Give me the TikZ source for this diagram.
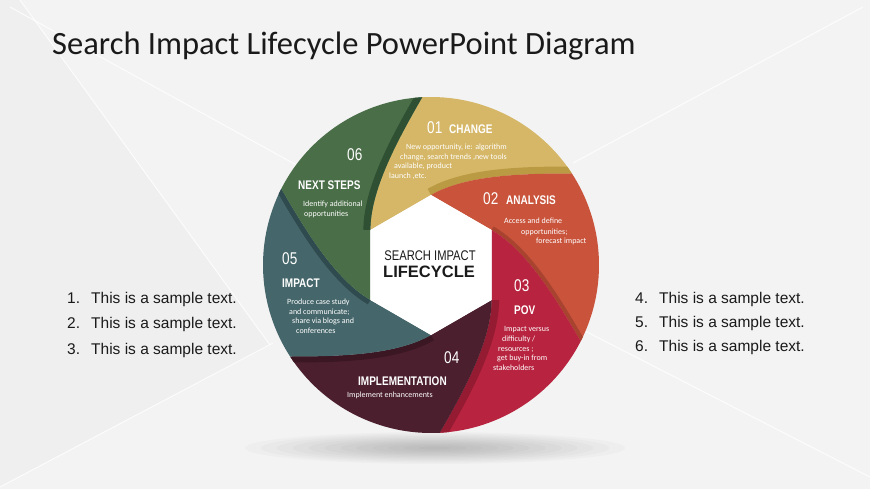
\documentclass[tikz,border=0pt]{standalone}
\usepackage{fontspec}
\setmainfont{Carlito}
\newfontfamily\narrowf[FakeStretch=0.8]{Liberation Sans}
\newfontfamily\arialf{Liberation Sans}
\usetikzlibrary{calc}
\definecolor{bg}{HTML}{F3F3F3}
\definecolor{bgdark}{HTML}{EAEAEA}
\definecolor{cyel}{HTML}{D5B767}
\definecolor{syel}{HTML}{BA9A42}
\definecolor{cora}{HTML}{C9533B}
\definecolor{sora}{HTML}{A8432F}
\definecolor{ccri}{HTML}{B8243F}
\definecolor{scri}{HTML}{951B33}
\definecolor{cmar}{HTML}{4B1F2E}
\definecolor{smar}{HTML}{3A1723}
\definecolor{ctea}{HTML}{45666A}
\definecolor{stea}{HTML}{2F4B4F}
\definecolor{cgre}{HTML}{4A6E47}
\definecolor{sgre}{HTML}{2F5032}
\definecolor{txt}{HTML}{1A1A1A}
\newcommand\bladepath[1]{(#1:70) -- (#1-60:70) .. controls ($(#1-60:70)+(#1-120:40)$) and ($(#1-117:168)+(#1+30:50)$) .. (#1-117:168) arc[start angle=#1-117, end angle=#1-57, radius=168] .. controls ($(#1-57:168)+(#1+90:50)$) and ($(#1:70)+(#1-60:40)$) .. (#1:70) -- cycle}
\newcommand\stripepath[1]{(#1-60:70) .. controls ($(#1-60:70)+(#1-120:40)$) and ($(#1-117:168)+(#1+30:50)$) .. (#1-117:168)}
\newcommand\blade[4]{%
  \begin{scope}
    \clip \bladepath{#1};
    \fill[#2] (0,0) circle[radius=172];
    \draw[#3, line width=#4] \stripepath{#1};
  \end{scope}}
\begin{document}
\begin{tikzpicture}[x=1pt, y=-1pt,
  num/.style={font=\narrowf\fontsize{17}{17}\selectfont, text=white, anchor=base west, inner sep=0pt},
  lab/.style={font=\narrowf\bfseries\fontsize{12.5}{12.5}\selectfont, text=white, anchor=base west, inner sep=0pt},
  body/.style={font=\fontsize{8}{8}\selectfont, text=white, anchor=base west, inner sep=0pt},
  list/.style={font=\arialf\fontsize{15.5}{15.5}\selectfont, text=txt, anchor=base west, inner sep=0pt},
  bgline/.style={white, line width=1pt, opacity=0.8}]
\useasboundingbox (0,0) rectangle (870,489);
% background
\fill[bg] (0,0) rectangle (870,489);
\fill[bgdark, opacity=0.35] (0,0) -- (20,0) -- (270,345) -- (0,487) -- cycle;
\draw[bgline] (20,0) -- (270,345);
\draw[bgline] (0,487) -- (273,343);
\draw[bgline] (10,7) -- (300,167);
\draw[bgline] (573,163) -- (863,7);
\draw[bgline] (583,330) -- (870,477);
% shadow
\foreach \k in {1,...,12}{
  \fill[black, opacity=0.018] (435,448) ellipse[x radius={190*\k/12}, y radius={16*\k/12}];
}
% wheel
\begin{scope}[shift={(431,265)}, yscale=-1]
  \blade{150}{cyel}{syel}{14pt}
  \blade{90}{cora}{sora}{8pt}
  \blade{30}{ccri}{scri}{15pt}
  \blade{-30}{cmar}{smar}{12pt}
  \blade{-90}{ctea}{stea}{10pt}
  \blade{-150}{cgre}{sgre}{14pt}
  \fill[white] (90:70) -- (30:70) -- (-30:70) -- (-90:70) -- (-150:70) -- (150:70) -- cycle;
\end{scope}
% title
\node[font=\fontsize{32.5}{32.5}\selectfont, text=txt, anchor=base west, inner sep=0pt] (title) at (52,55) {Search Impact Lifecycle PowerPoint Diagram};
% center
\node[font=\narrowf\fontsize{14}{14}\selectfont, text=txt, anchor=base, inner sep=0pt] (c1) at (430,260) {SEARCH IMPACT};
\node[font=\arialf\bfseries\fontsize{16.5}{16.5}\selectfont, text=txt, anchor=base, inner sep=0pt] (c2) at (429,277) {LIFECYCLE};
% 01
\node[num] (n1) at (427,134) {01};
\node[lab] (l1) at (449,133.5) {CHANGE};
\node[body] (b1a) at (406,149.5) {New opportunity, ie: algorithm};
\node[body] (b1b) at (400,159.5) {change, search trends ,new tools};
\node[body] (b1c) at (394,168.5) {available, product};
\node[body] (b1d) at (389,178.5) {launch ,etc.};
% 02
\node[num] (n2) at (483,205) {02};
\node[lab] (l2) at (506,204.5) {ANALYSIS};
\node[body] (b2a) at (504,223.5) {Access and define};
\node[body] (b2b) at (521,234.5) {opportunities;};
\node[body] (b2c) at (536,243.5) {forecast impact};
% 03
\node[num] (n3) at (514,291) {03};
\node[lab] (l3) at (514,314.5) {POV};
\node[body] (b3a) at (504,331.5) {Impact versus};
\node[body] (b3b) at (502,341.5) {difficulty /};
\node[body] (b3c) at (498,351.5) {resources ;};
\node[body] (b3d) at (497,360.5) {get buy-in from};
\node[body] (b3e) at (493,370.5) {stakeholders};
% 04
\node[num] (n4) at (444,363) {04};
\node[lab] (l4) at (358,385.5) {IMPLEMENTATION};
\node[body] (b4a) at (347,397.5) {Implement enhancements};
% 05
\node[num] (n5) at (282,264) {05};
\node[lab] (l5) at (282,287.5) {IMPACT};
\node[body] (b5a) at (287,304.5) {Produce case study};
\node[body] (b5b) at (289,314.5) {and communicate;};
\node[body] (b5c) at (292,323.5) {share via blogs and};
\node[body] (b5d) at (296,333.5) {conferences};
% 06
\node[num] (n6) at (347,161) {06};
\node[lab] (l6) at (298,189.5) {NEXT STEPS};
\node[body] (b6a) at (303,206.5) {Identify additional};
\node[body] (b6b) at (304,216.5) {opportunities};
% lists
\node[list] (ln1) at (67,303) {1.};
\node[list] (lt1) at (91,303) {This is a sample text.};
\node[list] (ln2) at (67,328.5) {2.};
\node[list] (lt2) at (91,328.5) {This is a sample text.};
\node[list] (ln3) at (67,354) {3.};
\node[list] (lt3) at (91,354) {This is a sample text.};
\node[list] (rn4) at (635,303) {4.};
\node[list] (rt4) at (659,303) {This is a sample text.};
\node[list] (rn5) at (635,327) {5.};
\node[list] (rt5) at (659,327) {This is a sample text.};
\node[list] (rn6) at (635,351) {6.};
\node[list] (rt6) at (659,351) {This is a sample text.};
\end{tikzpicture}
\end{document}
